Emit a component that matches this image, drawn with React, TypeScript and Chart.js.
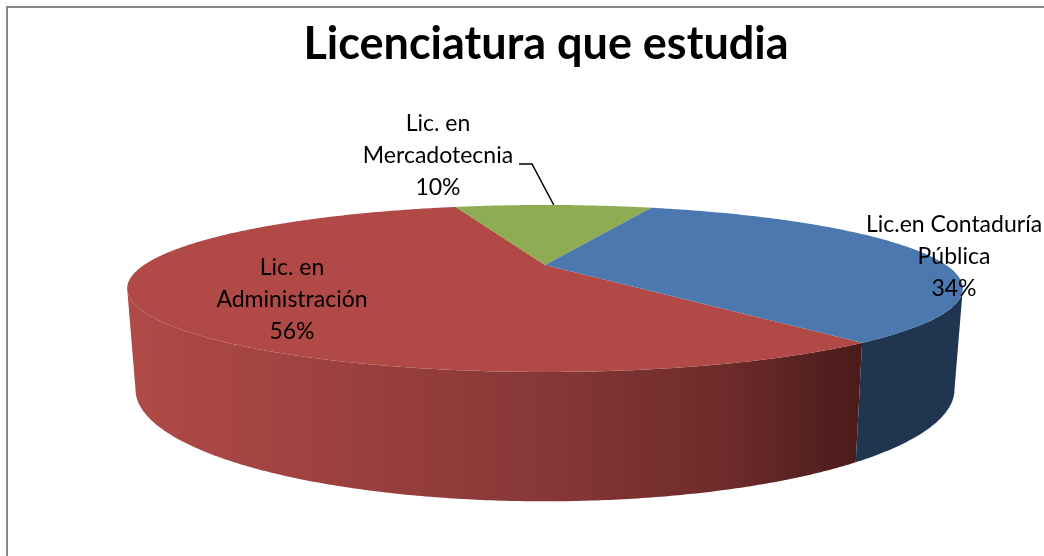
import React, { useEffect, useRef } from "react";
import { Chart, registerables } from "chart.js";

Chart.register(...registerables);

// ---- data ----
const categories = ["Lic. en Administración", "Lic. en Mercadotecnia", "Lic.en Contaduría Pública"];
const values = [56, 10, 34];
const labelLines = [["Lic. en", "Administración"], ["Lic. en", "Mercadotecnia"], ["Lic.en Contaduría", "Pública"]];
const titleText = "Licenciatura que estudia";

// ---- styles / layout ----
const topColors = ["#B14A47", "#8EAD53", "#4A78AF"];
const wallColors = ["red-gradient", "#5E7433", "#1F3550"];
const labelAnchors = [
  { x: 292, y: 268 },
  { x: 438, y: 124 },
  { x: 954, y: 225 },
];
const LABEL_FONT = "23px Lato";
const LINE_H = 32;

// perspective projection of the pie disc
const P = { cx: 545, cy: 265, a: 401, b: 76.9, p: 0.281, h: 93, s: 0.98 };
const VIS0 = Math.asin(P.p);
const VIS1 = Math.PI - VIS0;

function proj(ang: number, r: number, bottom: boolean): [number, number] {
  const u = Math.cos(ang) * r;
  const v = Math.sin(ang) * r;
  const d = 1 - P.p * v;
  const k = bottom ? P.s : 1;
  return [P.cx + (P.a * k * u) / d, P.cy + (P.b * v + (bottom ? P.h : 0)) / d];
}

function visibleSegs(s: number, e: number): [number, number][] {
  const out: [number, number][] = [];
  for (let k = -2; k <= 2; k++) {
    const lo = VIS0 + 2 * Math.PI * k;
    const hi = VIS1 + 2 * Math.PI * k;
    const a = Math.max(s, lo);
    const b = Math.min(e, hi);
    if (b > a) out.push([a, b]);
  }
  return out;
}

const STEP = Math.PI / 360;

const pie3d = {
  id: "pie3d",
  beforeDraw(chart: any) {
    const ctx = chart.ctx;
    ctx.save();
    ctx.fillStyle = "#ffffff";
    ctx.fillRect(0, 0, chart.width, chart.height);
    ctx.strokeStyle = "#878787";
    ctx.lineWidth = 2;
    ctx.beginPath();
    ctx.moveTo(7, chart.height + 5);
    ctx.lineTo(7, 7);
    ctx.lineTo(chart.width + 5, 7);
    ctx.stroke();
    ctx.restore();
  },
  beforeDatasetsDraw(chart: any) {
    const ctx = chart.ctx;
    const meta = chart.getDatasetMeta(0);
    ctx.save();
    // side walls
    meta.data.forEach((arc: any, i: number) => {
      const { startAngle, endAngle } = arc.getProps(["startAngle", "endAngle"], true);
      visibleSegs(startAngle, endAngle).forEach(([a, b]) => {
        ctx.beginPath();
        let first = true;
        for (let t = a; t < b; t += STEP) {
          const [x, y] = proj(t, 1, false);
          if (first) { ctx.moveTo(x, y); first = false; } else ctx.lineTo(x, y);
        }
        let [x, y] = proj(b, 1, false);
        ctx.lineTo(x, y);
        for (let t = b; t > a; t -= STEP) {
          [x, y] = proj(t, 1, true);
          ctx.lineTo(x, y);
        }
        [x, y] = proj(a, 1, true);
        ctx.lineTo(x, y);
        ctx.closePath();
        if (wallColors[i] === "red-gradient") {
          const g = ctx.createLinearGradient(128, 0, 862, 0);
          g.addColorStop(0, "#B04A47");
          g.addColorStop(0.35, "#983F3D");
          g.addColorStop(0.6, "#833635");
          g.addColorStop(0.82, "#6C2B2A");
          g.addColorStop(1, "#4A1B1A");
          ctx.fillStyle = g;
        } else {
          ctx.fillStyle = wallColors[i];
        }
        ctx.fill();
      });
    });
    // top faces
    meta.data.forEach((arc: any, i: number) => {
      const { startAngle, endAngle } = arc.getProps(["startAngle", "endAngle"], true);
      ctx.beginPath();
      const [c0, c1] = proj(0, 0, false);
      ctx.moveTo(c0, c1);
      for (let t = startAngle; t < endAngle; t += STEP) {
        const [x, y] = proj(t, 1, false);
        ctx.lineTo(x, y);
      }
      const [x, y] = proj(endAngle, 1, false);
      ctx.lineTo(x, y);
      ctx.closePath();
      ctx.fillStyle = topColors[i];
      ctx.fill();
    });
    ctx.restore();
    return false;
  },
  afterDraw(chart: any) {
    const ctx = chart.ctx;
    const meta = chart.getDatasetMeta(0);
    const total = values.reduce((s, v) => s + v, 0);
    ctx.save();
    ctx.font = LABEL_FONT;
    ctx.fillStyle = "#000000";
    ctx.textAlign = "center";
    ctx.textBaseline = "middle";
    labelLines.forEach((lines, i) => {
      const pct = Math.round((values[i] / total) * 100) + "%";
      const all = [...lines, pct];
      all.forEach((ln, j) => {
        ctx.fillText(ln, labelAnchors[i].x, labelAnchors[i].y + j * LINE_H);
      });
    });
    // leader line for Mercadotecnia
    const arc = meta.data[1];
    const { startAngle, endAngle } = arc.getProps(["startAngle", "endAngle"], true);
    const mid = (startAngle + endAngle) / 2;
    const [ex, ey] = proj(mid, 1, false);
    ctx.strokeStyle = "#000000";
    ctx.lineWidth = 1.5;
    ctx.beginPath();
    ctx.moveTo(519, 164);
    ctx.lineTo(532, 164);
    ctx.lineTo(ex, ey);
    ctx.stroke();
    ctx.restore();
  },
};

export default function App() {
  const ref = useRef<HTMLCanvasElement | null>(null);
  useEffect(() => {
    if (!ref.current) return;
    const chart = new Chart(ref.current, {
      type: "pie",
      data: {
        labels: categories,
        datasets: [{ data: values, backgroundColor: topColors, borderWidth: 0 }],
      },
      options: {
        responsive: false,
        animation: false,
        rotation: 142,
        layout: { padding: { left: 48, top: 17 } },
        plugins: {
          legend: { display: false },
          tooltip: { enabled: false },
          title: {
            display: true,
            text: titleText,
            color: "#000000",
            font: { family: "Lato", size: 45, weight: "bold" },
            padding: { top: 0, bottom: 10 },
          },
        },
      },
      plugins: [pie3d],
    });
    return () => chart.destroy();
  }, []);
  return (
    <div style={{ position: "fixed", left: 0, top: 0, width: 1044, height: 556 }}>
      <canvas ref={ref} width={1044} height={556} style={{ display: "block" }} />
    </div>
  );
}
